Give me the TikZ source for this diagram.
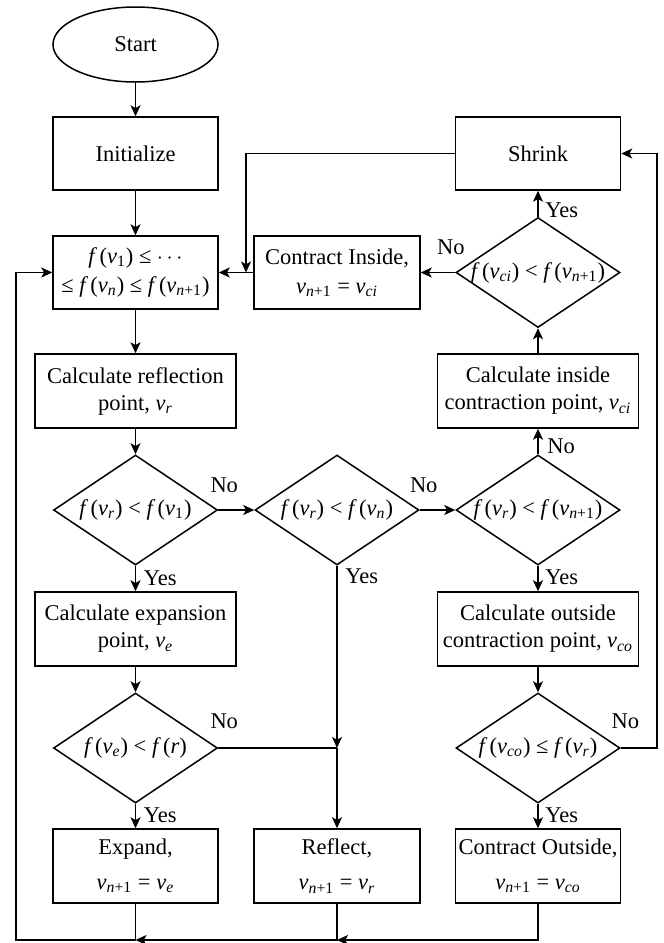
\documentclass[tikz,border=0pt]{standalone}
\usepackage{fontspec}
\setmainfont{Liberation Serif}
\usetikzlibrary{shapes.geometric,arrows.meta}
\newcommand\vsub[1]{\textit{v}\textsubscript{\textit{#1}}}
\newcommand\vnp{\textit{v}\textsubscript{\textit{n}+1}}
\newcommand\vone{\textit{v}\textsubscript{1}}
\newcommand\ff{\textit{f}\kern0.1em}
\begin{document}
\begin{tikzpicture}[x=0.5pt,y=-0.5pt,
  every node/.style={font=\fontsize{11.25}{13.5}\selectfont},
  ln/.style={line width=0.75pt},
  arr/.style={ln,-{Stealth[length=5.5pt,width=5pt,inset=1.4pt]}},
  box/.style={draw,ln,align=center,inner sep=0pt,minimum height=36.5pt},
  nbox/.style={box,minimum width=82.5pt},
  wbox/.style={box,minimum width=100.5pt,minimum height=37pt},
  dia/.style={draw,ln,diamond,inner sep=0pt,minimum width=82pt,minimum height=55pt},
  lab/.style={inner sep=1pt}
]
\useasboundingbox (0,0) rectangle (664,943);
\def\L{135.5}\def\M{337}\def\R{538}
% nodes
\node[draw,ln,ellipse,inner sep=0pt,minimum width=82.5pt,minimum height=37.5pt] (start) at (\L,44.5) {Start};
\node[nbox] (init) at (\L,153.5) {Initialize};
\node[nbox] (shrink) at (\R,153.5) {Shrink};
\node[nbox] (sort) at (\L,272.5) {\ff(\vone) ≤ $\cdots$\\[1pt]≤ \ff(\vsub{n}) ≤ \ff(\vnp)};
\node[box,minimum width=83pt] (cinside) at (\M,272.5) {Contract Inside,\\[1pt]\vnp{} = \vsub{ci}};
\node[dia,label=center:{\ff(\vsub{ci}) < \ff(\vnp)}] (dvci) at (\R,272.5) {};
\node[wbox] (refl) at (\L,391) {Calculate reflection\\point, \vsub{r}};
\node[wbox] (cin) at (\R,391) {Calculate inside\\contraction point, \vsub{ci}};
\node[dia,label=center:{\ff(\vsub{r}) < \ff(\vone)}] (d1) at (\L,510) {};
\node[dia,label=center:{\ff(\vsub{r}) < \ff(\vsub{n})}] (d2) at (\M,510) {};
\node[dia,label=center:{\ff(\vsub{r}) < \ff(\vnp)}] (d3) at (\R,510) {};
\node[wbox] (cexp) at (\L,629) {Calculate expansion\\point, \vsub{e}};
\node[wbox] (cout) at (\R,629) {Calculate outside\\contraction point, \vsub{co}};
\node[dia,label=center:{\ff(\vsub{e}) < \ff(\textit{r})}] (dve) at (\L,748) {};
\node[dia,label=center:{\ff(\vsub{co}) ≤ \ff(\vsub{r})}] (dvco) at (\R,748) {};
\node[nbox,minimum height=37pt] (ex) at (\L,866) {Expand,\\[4pt]\vnp{} = \vsub{e}};
\node[box,minimum width=83pt,minimum height=37pt] (rf) at (\M,866) {Reflect,\\[4pt]\vnp{} = \vsub{r}};
\node[nbox,minimum height=37pt] (co) at (\R,866) {Contract Outside,\\[4pt]\vnp{} = \vsub{co}};
% helper coordinates
\coordinate (j1) at (\M,748);
\coordinate (j2) at (246,272.5);
\coordinate (rloop) at (657,153.5);
\coordinate (b1) at (\L,940);
\coordinate (b2) at (\M,940);
\coordinate (lb) at (16,940);
% connectors
\draw[arr] (start) -- (init);
\draw[arr] (init) -- (sort);
\draw[arr] (sort) -- (refl);
\draw[arr] (refl) -- (d1);
\draw[arr] (d1) -- (cexp);
\draw[arr] (d1) -- (d2);
\draw[arr] (d2) -- (d3);
\draw[arr] (d2.south) -- (j1);
\draw[ln] (dve.east) -- (j1);
\draw[arr] (j1) -- (rf);
\draw[arr] (d3) -- (cin);
\draw[arr] (cin) -- (dvci);
\draw[arr] (dvci) -- (shrink);
\draw[arr] (dvci) -- (cinside);
\draw[arr] (cinside) -- (sort);
\draw[arr] (shrink.west) -| (j2);
\draw[arr] (d3) -- (cout);
\draw[arr] (cexp) -- (dve);
\draw[arr] (dve) -- (ex);
\draw[arr] (cout) -- (dvco);
\draw[arr] (dvco) -- (co);
\draw[arr] (dvco.east) -| (rloop) -- (shrink.east);
\draw[arr] (co.south) |- (b2);
\draw[arr] (rf.south) |- (b1);
\draw[arr] (ex.south) |- (lb) |- (sort.west);
% labels
\node[lab,anchor=south] at ([xshift=3pt,yshift=7.5pt]d1.east) {No};
\node[lab,anchor=south] at ([xshift=2pt,yshift=7.5pt]d2.east) {No};
\node[lab,anchor=south west] at ([xshift=3.5pt,yshift=-1pt]d3.north) {No};
\node[lab,anchor=south west] at ([xshift=2.5pt,yshift=-1.5pt]dvci.north) {Yes};
\node[lab,anchor=south] at ([xshift=-2.25pt,yshift=7.5pt]dvci.west) {No};
\node[lab,anchor=south] at ([xshift=3pt,yshift=8.5pt]dve.east) {No};
\node[lab,anchor=south] at ([xshift=2.25pt,yshift=8.5pt]dvco.east) {No};
\node[lab,anchor=north west] at ([xshift=3pt,yshift=-1.5pt]d1.south) {Yes};
\node[lab,anchor=north west] at ([xshift=3pt,yshift=-0.5pt]d2.south) {Yes};
\node[lab,anchor=north west] at ([xshift=2.5pt,yshift=-1pt]d3.south) {Yes};
\node[lab,anchor=north west] at ([xshift=3pt,yshift=-1pt]dve.south) {Yes};
\node[lab,anchor=north west] at ([xshift=2.5pt,yshift=-1pt]dvco.south) {Yes};
\end{tikzpicture}
\end{document}
